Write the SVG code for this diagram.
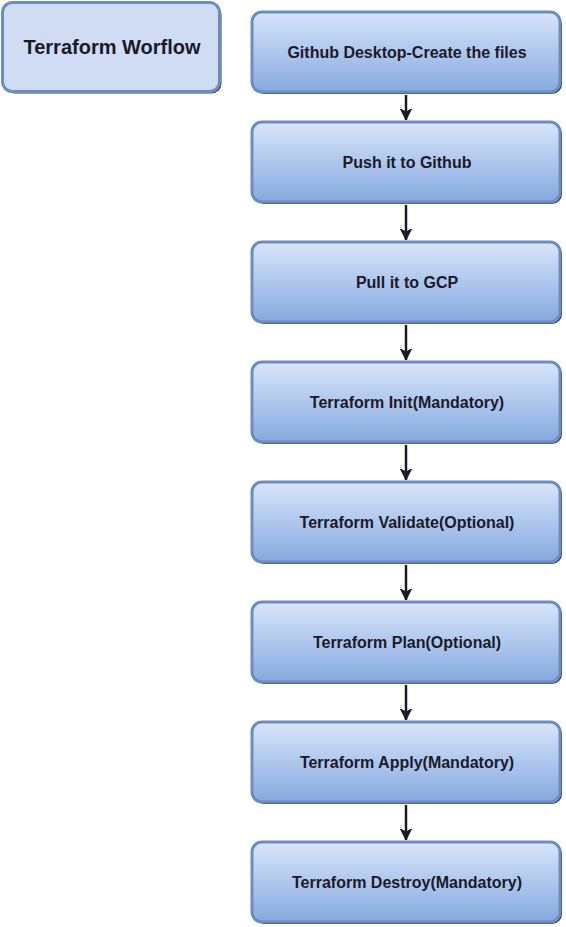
<svg xmlns="http://www.w3.org/2000/svg" width="566" height="927" viewBox="0 0 566 927">
<defs>
<linearGradient id="g" x1="0" y1="0" x2="0" y2="1">
<stop offset="0" stop-color="#d8e5fa"/>
<stop offset="1" stop-color="#86a9e0"/>
</linearGradient>
<marker id="ah" viewBox="0 0 12 12" refX="11" refY="6" markerWidth="12" markerHeight="12" markerUnits="userSpaceOnUse" orient="auto">
<path d="M0,0.5 L11,6 L0,11.5 L3,6 Z" fill="#1a1a2a" stroke="#1a1a2a" stroke-width="1" stroke-linejoin="round"/>
</marker>
</defs>
<style>
.sh{fill:#1a1a1a;opacity:0.85}
.box{fill:url(#g);stroke:#6c8ebf;stroke-width:3}
.title{fill:#d0dcf4;stroke:#6c8ebf;stroke-width:3}
.t{font-family:"Liberation Sans",Arial,sans-serif;font-weight:bold;font-size:16px;fill:#1a1a2a;text-anchor:middle}
.tt{font-family:"Liberation Sans",Arial,sans-serif;font-weight:bold;font-size:20px;fill:#1a1a2a;text-anchor:middle}
.c{stroke:#1a1a2a;stroke-width:2.5;fill:none;marker-end:url(#ah)}
</style>
<g id="title">
<rect class="sh" x="4.5" y="4.5" width="217" height="89" rx="10"/>
<rect class="title" x="2.5" y="2.5" width="217" height="89" rx="10"/>
<text class="tt" x="112" y="54">Terraform Worflow</text>
</g>
<g id="connectors">
<line class="c" x1="406" y1="95" x2="406" y2="120"/>
<line class="c" x1="406" y1="205" x2="406" y2="240"/>
<line class="c" x1="406" y1="325" x2="406" y2="360"/>
<line class="c" x1="406" y1="445" x2="406" y2="480"/>
<line class="c" x1="406" y1="565" x2="406" y2="600"/>
<line class="c" x1="406" y1="685" x2="406" y2="720"/>
<line class="c" x1="406" y1="805" x2="406" y2="840"/>
</g>
<g id="n1">
<rect class="sh" x="254" y="14" width="308" height="80" rx="10"/>
<rect class="box" x="252" y="12" width="308" height="80" rx="10"/>
<text class="t" x="407" y="57.5">Github Desktop-Create the files</text>
</g>
<g id="n2">
<rect class="sh" x="254" y="124" width="308" height="80" rx="10"/>
<rect class="box" x="252" y="122" width="308" height="80" rx="10"/>
<text class="t" x="407" y="167.5">Push it to Github</text>
</g>
<g id="n3">
<rect class="sh" x="254" y="244" width="308" height="80" rx="10"/>
<rect class="box" x="252" y="242" width="308" height="80" rx="10"/>
<text class="t" x="407" y="287.5">Pull it to GCP</text>
</g>
<g id="n4">
<rect class="sh" x="254" y="364" width="308" height="80" rx="10"/>
<rect class="box" x="252" y="362" width="308" height="80" rx="10"/>
<text class="t" x="407" y="407.5">Terraform Init(Mandatory)</text>
</g>
<g id="n5">
<rect class="sh" x="254" y="484" width="308" height="80" rx="10"/>
<rect class="box" x="252" y="482" width="308" height="80" rx="10"/>
<text class="t" x="407" y="527.5">Terraform Validate(Optional)</text>
</g>
<g id="n6">
<rect class="sh" x="254" y="604" width="308" height="80" rx="10"/>
<rect class="box" x="252" y="602" width="308" height="80" rx="10"/>
<text class="t" x="407" y="647.5">Terraform Plan(Optional)</text>
</g>
<g id="n7">
<rect class="sh" x="254" y="724" width="308" height="80" rx="10"/>
<rect class="box" x="252" y="722" width="308" height="80" rx="10"/>
<text class="t" x="407" y="767.5">Terraform Apply(Mandatory)</text>
</g>
<g id="n8">
<rect class="sh" x="254" y="844" width="308" height="80" rx="10"/>
<rect class="box" x="252" y="842" width="308" height="80" rx="10"/>
<text class="t" x="407" y="887.5">Terraform Destroy(Mandatory)</text>
</g>
</svg>
